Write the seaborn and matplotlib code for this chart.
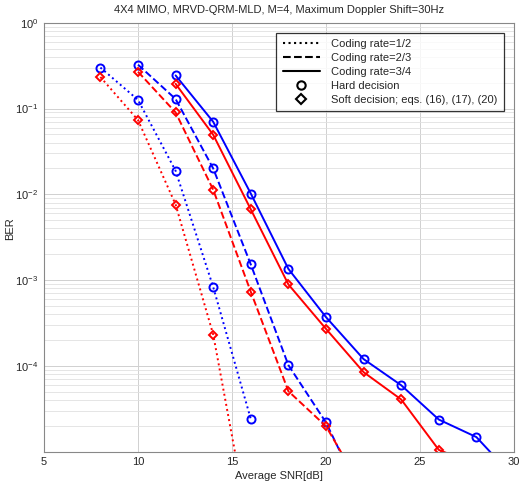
import matplotlib
matplotlib.use("Agg")
import matplotlib.pyplot as plt
from matplotlib.lines import Line2D
from matplotlib.ticker import LogLocator, NullFormatter
import seaborn as sns
import pandas as pd

# ---- data ----
snr_r12 = [8, 10, 12, 14, 16]
hard_r12 = [0.30, 0.126, 0.0188, 8.3e-4, 2.4e-5]
soft_r12 = [0.233, 0.0733, 0.0076, 2.32e-4, 1.0e-6]

snr_r23 = [10, 12, 14, 16, 18, 20, 22]
hard_r23 = [0.324, 0.129, 0.020, 1.52e-3, 1.02e-4, 2.19e-5, 2.7e-6]
soft_r23 = [0.268, 0.090, 0.0113, 7.3e-4, 5.07e-5, 1.98e-5, 3.5e-6]

snr_r34 = [12, 14, 16, 18, 20, 22, 24, 26, 28, 30]
hard_r34 = [0.243, 0.070, 0.0102, 1.35e-3, 3.7e-4, 1.2e-4, 5.95e-5, 2.37e-5, 1.48e-5, 5.0e-6]
soft_r34 = [0.194, 0.0494, 6.67e-3, 8.9e-4, 2.7e-4, 8.45e-5, 4.06e-5, 1.05e-5, 7.0e-6]

title = "4X4 MIMO, MRVD-QRM-MLD, M=4, Maximum Doppler Shift=30Hz"
xlabel = "Average SNR[dB]"
ylabel = "BER"
legend_labels = ["Coding rate=1/2", "Coding rate=2/3", "Coding rate=3/4",
                 "Hard decision", "Soft decision; eqs. (16), (17), (20)"]

sns.set_style("white")
plt.rcParams['font.family'] = ['Liberation Sans', 'DejaVu Sans']

fig = plt.figure(figsize=(5.22, 4.83), dpi=100)
ax = fig.add_axes([44/522, 1 - 451.7/483, 470/522, 429/483])

series = [
    (snr_r12, hard_r12, 'blue', ':', 'o'),
    (snr_r12, soft_r12, 'red', ':', 'D'),
    (snr_r23, hard_r23, 'blue', '--', 'o'),
    (snr_r23, soft_r23, 'red', '--', 'D'),
    (snr_r34, hard_r34, 'blue', '-', 'o'),
    (snr_r34, soft_r34, 'red', '-', 'D'),
]
for x, y, c, ls, m in series:
    df = pd.DataFrame({"snr": x[:len(y)], "ber": y})
    ms = 5.8 if m == 'o' else 4.5
    sns.lineplot(data=df, x="snr", y="ber", ax=ax, color=c, linestyle=ls,
                 linewidth=1.4, marker=m, markersize=ms, markerfacecolor='none',
                 markeredgecolor=c, markeredgewidth=1.4, sort=False,
                 estimator=None, legend=False)

ax.set_yscale('log')
ax.set_xlim(5, 30)
ax.set_ylim(1e-5, 1)
ax.set_xticks([5, 10, 15, 20, 25, 30])
ax.set_yticks([1e-4, 1e-3, 1e-2, 1e-1, 1])
ax.yaxis.set_minor_locator(LogLocator(base=10, subs=range(2, 10), numticks=20))
ax.yaxis.set_minor_formatter(NullFormatter())
ax.grid(True, which='major', color='#d0d0d0', linewidth=0.7)
ax.grid(True, which='minor', axis='y', color='#e0e0e0', linewidth=0.6)
ax.tick_params(axis='both', which='both', length=0, labelsize=8, pad=4)
for s in ax.spines.values():
    s.set_color('#888888')
    s.set_linewidth(0.8)

ax.set_title(title, fontsize=8, pad=7)
ax.set_xlabel(xlabel, fontsize=8, labelpad=3)
ax.set_ylabel(ylabel, fontsize=8)
ax.yaxis.set_label_coords(-0.062, 0.52)

handles = [
    Line2D([], [], color='black', linestyle=':', linewidth=1.5),
    Line2D([], [], color='black', linestyle='--', linewidth=1.5),
    Line2D([], [], color='black', linestyle='-', linewidth=1.5),
    Line2D([], [], color='black', linestyle='none', marker='o', markersize=6,
           markerfacecolor='none', markeredgewidth=1.5),
    Line2D([], [], color='black', linestyle='none', marker='D', markersize=4.8,
           markerfacecolor='none', markeredgewidth=1.5),
]
leg = ax.legend(handles, legend_labels, loc='upper right', fontsize=8,
                frameon=True, fancybox=False, edgecolor='black',
                bbox_to_anchor=(0.9915, 0.990), borderpad=0.6,
                labelspacing=0.35, handlelength=3.4, handletextpad=1.0)
leg.get_frame().set_linewidth(0.9)

fig.savefig("out.png", dpi=100)
